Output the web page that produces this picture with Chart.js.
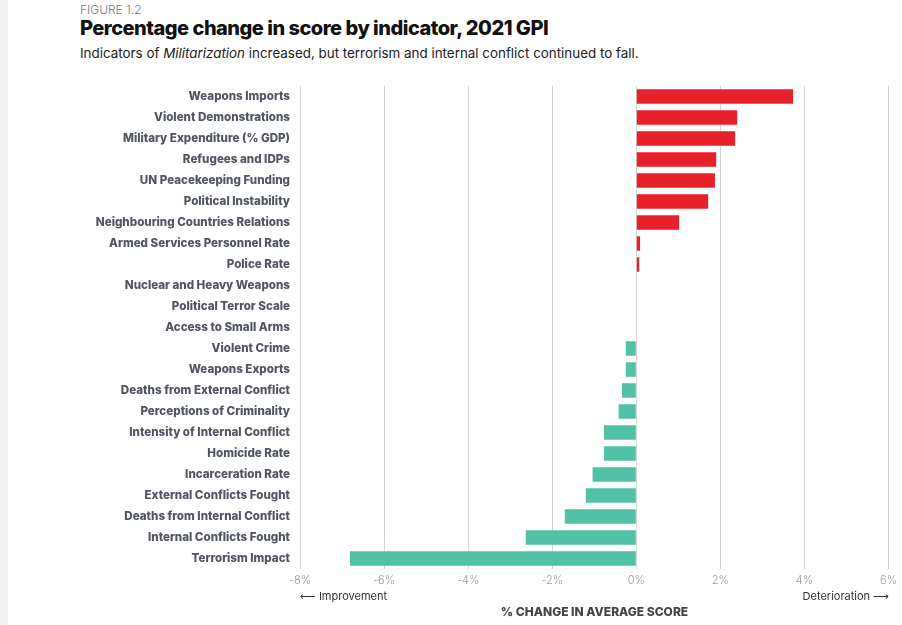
<!DOCTYPE html>
<html>
<head>
<meta charset="utf-8">
<script src="https://cdn.jsdelivr.net/npm/chart.js@4"></script>
<style>
  body { margin: 0; background: #fff; font-family: 'Inter', sans-serif; }
  #page { position: relative; width: 902px; height: 625px; overflow: hidden; }
  #strip { position: absolute; left: 0; top: 0; width: 8px; height: 625px; background: #f1f2f4; }
  #fig { position: absolute; left: 80px; top: 2px; font-size: 12px; color: #7a7a7a; font-weight: 300; }
  #title { position: absolute; left: 80px; top: 16px; font-size: 20px; font-weight: 800; color: #111; letter-spacing: -0.5px; }
  #sub { position: absolute; left: 80px; top: 45px; font-size: 13.4px; color: #222; }
  #wrap { position: absolute; left: 0; top: 0; width: 902px; height: 625px; }
  .note { position: absolute; font-size: 11px; color: #333; }
  #axisTitle { position: absolute; left: 300px; width: 589px; top: 604px; text-align: center; font-size: 12px; font-weight: 800; color: #444; }
</style>
</head>
<body>
<div id="page">
  <div id="strip"></div>
  <div id="fig">FIGURE 1.2</div>
  <div id="title">Percentage change in score by indicator, 2021 GPI</div>
  <div id="sub">Indicators of <i>Militarization</i> increased, but terrorism and internal conflict continued to fall.</div>
  <div id="wrap"><canvas id="gpiChart"></canvas></div>
  <div class="note" style="left:300px; top:589px;"><span style="font-family:'DejaVu Sans'">⟵</span> Improvement</div>
  <div class="note" style="right:13px; top:589px;">Deterioration <span style="font-family:'DejaVu Sans'">⟶</span></div>
  <div id="axisTitle">% CHANGE IN AVERAGE SCORE</div>
</div>
<script>
const indicators = [
  'Weapons Imports', 'Violent Demonstrations', 'Military Expenditure (% GDP)', 'Refugees and IDPs',
  'UN Peacekeeping Funding', 'Political Instability', 'Neighbouring Countries Relations',
  'Armed Services Personnel Rate', 'Police Rate', 'Nuclear and Heavy Weapons', 'Political Terror Scale',
  'Access to Small Arms', 'Violent Crime', 'Weapons Exports', 'Deaths from External Conflict',
  'Perceptions of Criminality', 'Intensity of Internal Conflict', 'Homicide Rate', 'Incarceration Rate',
  'External Conflicts Fought', 'Deaths from Internal Conflict', 'Internal Conflicts Fought', 'Terrorism Impact'
];
const changes = [
  3.73, 2.40, 2.35, 1.90, 1.87, 1.71, 1.02, 0.09, 0.07, 0, 0, 0,
  -0.25, -0.25, -0.34, -0.42, -0.77, -0.77, -1.04, -1.20, -1.70, -2.63, -6.81
];
const xTicks = [-8, -6, -4, -2, 0, 2, 4, 6];

const red = '#e8202a';
const teal = '#52c2a7';

new Chart(document.getElementById('gpiChart'), {
  type: 'bar',
  data: {
    labels: indicators,
    datasets: [{
      data: changes,
      backgroundColor: changes.map(v => v >= 0 ? red : teal),
      borderWidth: 0,
      categoryPercentage: 1,
      barPercentage: 0.68
    }]
  },
  options: {
    indexAxis: 'y',
    responsive: true,
    maintainAspectRatio: false,
    animation: false,
    layout: { padding: { top: 86, right: 13, bottom: 0, left: 0 } },
    plugins: { legend: { display: false }, tooltip: { enabled: false } },
    scales: {
      x: {
        min: -8, max: 6,
        afterBuildTicks: axis => { axis.ticks = xTicks.map(v => ({ value: v })); },
        afterFit: axis => { axis.height = 56; },
        grid: { color: '#d6d6d6', drawTicks: false },
        border: { display: false },
        ticks: {
          padding: 5,
          color: '#9a9a9a',
          font: { family: 'Inter', size: 11, weight: '300' },
          callback: v => v + '%'
        }
      },
      y: {
        afterFit: axis => { axis.width = 300; },
        grid: { display: false },
        border: { display: false },
        ticks: {
          padding: 2,
          color: '#50555f',
          autoSkip: false,
          font: { family: 'Inter', size: 11.6, weight: '800' }
        }
      }
    }
  }
});
</script>
</body>
</html>
